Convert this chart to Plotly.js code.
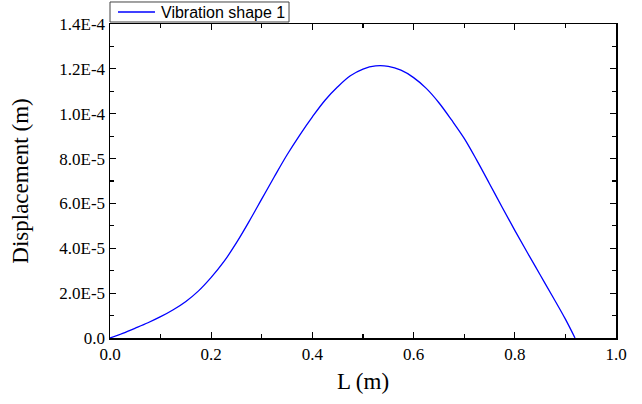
<!DOCTYPE html>
<html>
<head>
<meta charset="utf-8">
<script src="https://cdn.plot.ly/plotly-3.0.1.min.js"></script>
<style>html,body{margin:0;padding:0;background:#fff;}#chart{width:642px;height:404px;}</style>
</head>
<body>
<div id="chart"></div>
<script>
var seriesName = 'Vibration shape 1';
var lengthM = [0, 0.025, 0.05, 0.075, 0.1, 0.125, 0.15, 0.175, 0.2, 0.225, 0.25, 0.275, 0.3, 0.325, 0.35, 0.375, 0.4, 0.425, 0.45, 0.475, 0.5, 0.525, 0.55, 0.575, 0.6, 0.625, 0.65, 0.675, 0.7, 0.725, 0.75, 0.775, 0.8, 0.825, 0.85, 0.875, 0.9, 0.919];
var displacement = [0, 0.21e-5, 0.44e-5, 0.68e-5, 0.95e-5, 1.26e-5, 1.63e-5, 2.10e-5, 2.70e-5, 3.40e-5, 4.25e-5, 5.20e-5, 6.20e-5, 7.20e-5, 8.17e-5, 9.05e-5, 9.86e-5, 10.6e-5, 11.2e-5, 11.69e-5, 11.99e-5, 12.13e-5, 12.11e-5, 11.94e-5, 11.61e-5, 11.13e-5, 10.49e-5, 9.72e-5, 8.90e-5, 7.92e-5, 6.88e-5, 5.83e-5, 4.80e-5, 3.80e-5, 2.82e-5, 1.84e-5, 0.84e-5, 0];
var yTickVals = [0, 2e-5, 4e-5, 6e-5, 8e-5, 10e-5, 12e-5, 14e-5];
var yTickText = ['0.0', '2.0E-5', '4.0E-5', '6.0E-5', '8.0E-5', '1.0E-4', '1.2E-4', '1.4E-4'];
var xTickVals = [0, 0.2, 0.4, 0.6, 0.8, 1.0];
var xTickText = ['0.0', '0.2', '0.4', '0.6', '0.8', '1.0'];

var serif = 'Liberation Serif';
var sans = 'Liberation Sans';
function serifLabel(t) { return '<span style="font-family:\'Liberation Serif\',serif">' + t + '</span>'; }
var trace = {
  x: lengthM, y: displacement, name: seriesName, type: 'scatter', mode: 'lines',
  line: {color: '#0000ff', width: 1.3, shape: 'spline', smoothing: 1},
  showlegend: false
};
// legend box drawn in paper space (plot area: 506 x 314 px)
var legendShapes = [
  {type: 'rect', xref: 'paper', yref: 'paper', x0: 0, x1: 0.3538, y0: 1.0064, y1: 1.0701,
   line: {color: '#444', width: 1}, fillcolor: '#fff', layer: 'above'},
  {type: 'line', xref: 'paper', yref: 'paper', x0: 0.0158, x1: 0.0889, y0: 1.0382, y1: 1.0382,
   line: {color: '#0000ff', width: 1.3}, layer: 'above'}
];
var legendText = [{
  xref: 'paper', yref: 'paper', x: 0.0968, y: 1.0382, xanchor: 'left', yanchor: 'middle',
  text: seriesName, showarrow: false, font: {family: sans, size: 16, color: '#000'}
}];
var layout = {
  width: 642, height: 404,
  font: {family: serif, size: 17, color: '#000'},
  margin: {l: 110, r: 26, t: 24, b: 66, autoexpand: false},
  paper_bgcolor: '#fff', plot_bgcolor: '#fff',
  showlegend: false,
  shapes: legendShapes,
  annotations: legendText,
  xaxis: {
    showgrid: false, zeroline: false, showline: true, linecolor: '#000', linewidth: 1.5,
    mirror: 'ticks', ticks: 'inside', ticklen: 6, tickwidth: 1.2, tickcolor: '#000',
    tickfont: {family: serif, size: 17, color: '#000'},
    range: [0, 1], tickmode: 'array', tickvals: xTickVals, ticktext: xTickText,
    minor: {ticks: 'inside', dtick: 0.1, tick0: 0, ticklen: 4, tickwidth: 1.2, tickcolor: '#000'},
    title: {text: 'L (m)', font: {family: serif, size: 23, color: '#000'}, standoff: 10}
  },
  yaxis: {
    showgrid: false, zeroline: false, showline: true, linecolor: '#000', linewidth: 1.5,
    mirror: 'ticks', ticks: 'inside', ticklen: 6, tickwidth: 1.2, tickcolor: '#000',
    tickfont: {family: serif, size: 17, color: '#000'},
    range: [0, 1.4e-4], tickmode: 'array', tickvals: yTickVals, ticktext: yTickText.map(serifLabel),
    minor: {ticks: 'inside', dtick: 1e-5, tick0: 0, ticklen: 4, tickwidth: 1.2, tickcolor: '#000'},
    title: {text: 'Displacement (m)', font: {family: serif, size: 23, color: '#000'}, standoff: 24}
  }
};
Plotly.newPlot('chart', [trace], layout, {displayModeBar: false, staticPlot: true});
</script>
</body>
</html>
